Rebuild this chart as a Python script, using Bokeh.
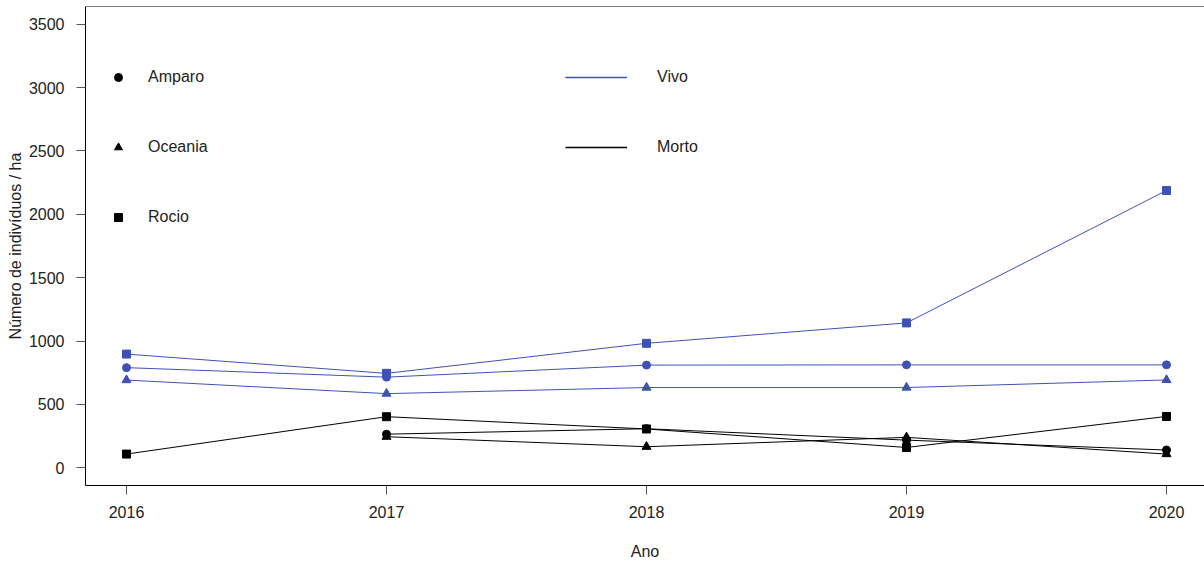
import numpy as np
from bokeh.plotting import figure
from bokeh.models import (ColumnDataSource, FixedTicker, Legend, LegendItem, Span,
                          Range1d)
from bokeh.embed import file_html
from bokeh.resources import INLINE

# ---- data ----
years = [2016, 2017, 2018, 2019, 2020]
vivo_amparo = [790, 715, 810, 812, 812]
vivo_oceania = [692, 585, 633, 633, 693]
vivo_rocio = [897, 745, 982, 1143, 2188]
morto_amparo = [np.nan, 265, 308, 218, 140]
morto_oceania = [np.nan, 245, 166, 240, 108]
morto_rocio = [108, 403, 306, 160, 405]

y_ticks = [0, 500, 1000, 1500, 2000, 2500, 3000, 3500]
x_ticks = years
sites = ["Amparo", "Oceania", "Rocio"]
states = ["Vivo", "Morto"]

BLUE = "#3f51b5"
BLACK = "#000000"
FONT = "Liberation Sans"
TXT = "#222222"

p = figure(width=1204, height=564, output_backend="svg", toolbar_location=None,
           x_range=Range1d(2016 - 41 / 260, 2020 + 38 / 260),
           y_range=Range1d(-140, 3640),
           min_border_left=85, min_border_right=0, min_border_top=6,
           min_border_bottom=79)
p.outline_line_color = None
p.background_fill_color = "white"
p.border_fill_color = "white"
p.xgrid.visible = False
p.ygrid.visible = False

for ax in (p.xaxis[0], p.yaxis[0]):
    ax.axis_line_color = BLACK
    ax.axis_line_width = 1
    ax.major_tick_line_color = "#555555"
    ax.major_tick_out = 9
    ax.major_tick_in = 0
    ax.minor_tick_line_color = None
    ax.major_label_text_font = FONT
    ax.major_label_text_font_size = "16px"
    ax.major_label_text_color = TXT
    ax.axis_label_text_font = FONT
    ax.axis_label_text_font_size = "16px"
    ax.axis_label_text_font_style = "normal"
    ax.axis_label_text_color = TXT

p.xaxis.ticker = FixedTicker(ticks=x_ticks)
p.yaxis.ticker = FixedTicker(ticks=y_ticks)
p.xaxis.major_label_standoff = 11
p.yaxis.major_label_standoff = 12
p.xaxis.axis_label = "Ano"
p.yaxis.axis_label = "Número de indivíduos / ha"
p.xaxis.axis_label_standoff = 22
p.yaxis.axis_label_standoff = 2

top = Span(location=3640, dimension="width", line_color=BLACK, line_width=1)
p.add_layout(top)

markers = {"Amparo": "circle", "Oceania": "triangle", "Rocio": "square"}
msize = {"Amparo": 8, "Oceania": 9, "Rocio": 8}
series = [
    ("Vivo", "Amparo", vivo_amparo, BLUE),
    ("Vivo", "Oceania", vivo_oceania, BLUE),
    ("Vivo", "Rocio", vivo_rocio, BLUE),
    ("Morto", "Amparo", morto_amparo, BLACK),
    ("Morto", "Oceania", morto_oceania, BLACK),
    ("Morto", "Rocio", morto_rocio, BLACK),
]
for state, site, vals, col in series:
    src = ColumnDataSource(dict(x=years, y=vals))
    p.line("x", "y", source=src, line_color=col, line_width=1)
    p.scatter("x", "y", source=src, marker=markers[site], size=msize[site],
              fill_color=col, line_color=col)

# legend 1: site markers (renderers hold no visible point)
items1 = []
for site in sites:
    ghost = ColumnDataSource(dict(x=[np.nan], y=[np.nan]))
    r = p.scatter("x", "y", source=ghost, marker=markers[site], size=8,
                  fill_color=BLACK, line_color=BLACK)
    items1.append(LegendItem(label=site, renderers=[r]))
# legend 2: state lines
items2 = []
for state, col in zip(states, [BLUE, BLACK]):
    ghost = ColumnDataSource(dict(x=[np.nan], y=[np.nan]))
    r = p.line("x", "y", source=ghost, line_color=col, line_width=1.5)
    items2.append(LegendItem(label=state, renderers=[r]))

def style(lg):
    lg.border_line_color = None
    lg.background_fill_alpha = 0
    lg.padding = 0
    lg.margin = 0
    lg.spacing = 50
    lg.glyph_height = 20
    lg.label_height = 20
    lg.label_text_font = FONT
    lg.label_text_font_size = "16px"
    lg.label_text_color = TXT

lg1 = Legend(items=items1, location=(23, 258))
style(lg1)
lg1.glyph_width = 20
lg1.label_standoff = 20
lg2 = Legend(items=items2, location=(480, 328))
style(lg2)
lg2.glyph_width = 62
lg2.label_standoff = 30
p.add_layout(lg1, "center")
p.add_layout(lg2, "center")

open("out.html", "w").write(file_html(p, INLINE))
